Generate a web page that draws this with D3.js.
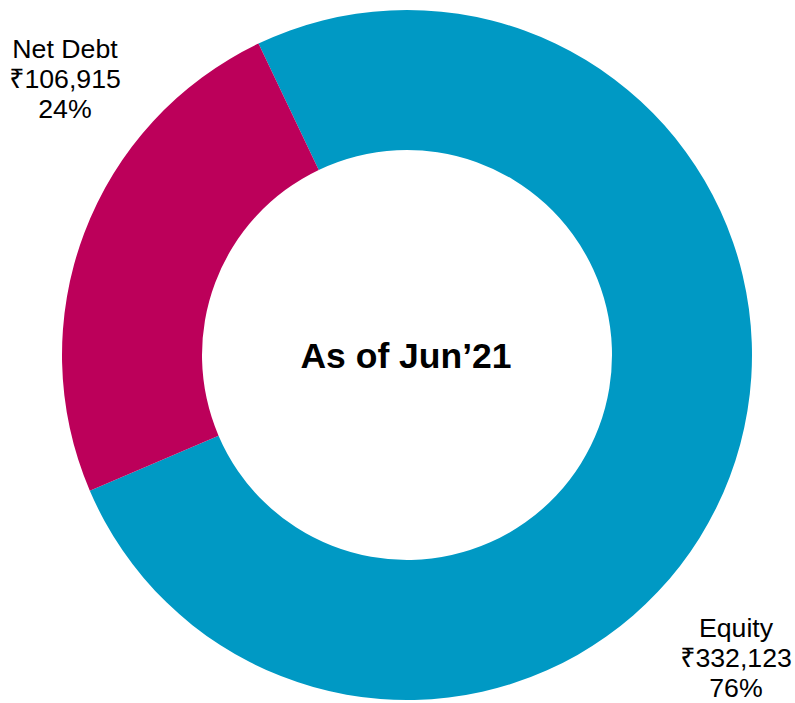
<!DOCTYPE html>
<html>
<head>
<meta charset="utf-8">
<script src="https://cdn.jsdelivr.net/npm/d3@7"></script>
<style>
  html, body { margin: 0; padding: 0; background: #ffffff; }
  svg { display: block; }
  text { font-family: "Liberation Sans", Arial, "Noto Sans", sans-serif; fill: #000; }
</style>
</head>
<body>
<svg id="chart" width="795" height="703"></svg>
<script>
// Capital structure, ₹ values
const categories = ["Equity", "Net Debt"];
const values = [332123, 106915];
const percentLabels = ["76%", "24%"];
const colors = ["#0099C4", "#BC005A"];
const centerTitle = "As of Jun\u201921";

const width = 795, height = 703;
const cx = 407, cy = 355;
const outerR = 345, innerR = 205;

const svg = d3.select("#chart");
const g = svg.append("g").attr("transform", `translate(${cx},${cy})`);

// First slice begins slightly left of 12 o'clock
const start = -25.5 * Math.PI / 180;
const pie = d3.pie().sort(null).value(d => d.value)
  .startAngle(start).endAngle(start + 2 * Math.PI);

const data = categories.map((c, i) => ({ name: c, value: values[i], pct: percentLabels[i], color: colors[i] }));
const arcs = pie(data);

const arc = d3.arc().innerRadius(innerR).outerRadius(outerR);

g.selectAll("path.slice").data(arcs).join("path")
  .attr("class", "slice")
  .attr("d", arc)
  .attr("fill", d => d.data.color);

// Centre caption
g.append("text")
  .attr("x", -1).attr("y", 13)
  .attr("text-anchor", "middle")
  .style("font-size", "35.5px")
  .style("font-weight", "bold")
  .text(centerTitle);

// Outside labels: name, rupee amount, share
const fmt = d3.format(",");
const lineGap = 30;
const labelPos = {
  "Equity": [736, 637],
  "Net Debt": [65, 58]
};
arcs.forEach(a => {
  const [lx, ly] = labelPos[a.data.name];
  const t = svg.append("text")
    .attr("text-anchor", "middle")
    .style("font-size", "26.7px");
  const lines = [a.data.name, "\u20B9" + fmt(a.data.value), a.data.pct];
  lines.forEach((s, i) => {
    t.append("tspan").attr("x", lx).attr("y", ly + i * lineGap).text(s);
  });
});
</script>
</body>
</html>
